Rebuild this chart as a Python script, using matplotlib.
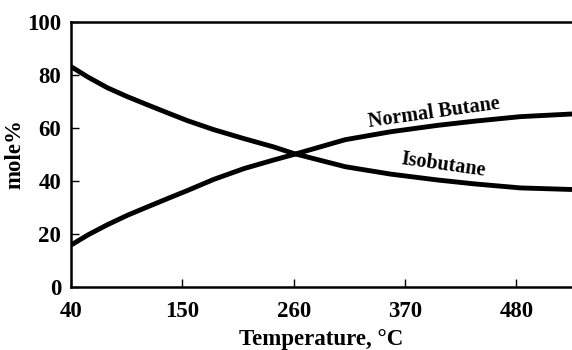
import matplotlib
matplotlib.use('Agg')
import matplotlib.pyplot as plt

# values
temps = [40, 57, 76, 96, 116, 135, 155, 181, 211, 240, 260, 311, 356, 402, 439, 484, 535]
isobutane = [83.2, 79.2, 75.2, 71.8, 68.7, 65.8, 62.8, 59.4, 56.0, 52.9, 50.4,
             45.4, 42.6, 40.4, 38.9, 37.4, 36.8]
normal_butane = [15.8, 19.7, 23.5, 27.1, 30.3, 33.3, 36.4, 40.6, 44.7, 47.9, 50,
                 55.6, 58.6, 61.0, 62.6, 64.3, 65.3]
xticks = [40, 150, 260, 370, 480]
yticks = [0, 20, 40, 60, 80, 100]

plt.rcParams['font.family'] = ['Liberation Serif', 'DejaVu Serif']
plt.rcParams['font.weight'] = 'bold'

fig = plt.figure(figsize=(5.72, 3.5), dpi=100)
ax = fig.add_axes([0.124, 0.18, 0.876, 0.757])

ax.plot(temps, isobutane, color='black', lw=3.5, solid_capstyle='butt')
ax.plot(temps, normal_butane, color='black', lw=3.5, solid_capstyle='butt')

ax.set_xlim(40, 535)
ax.set_ylim(0, 100)
ax.set_xticks(xticks)
ax.set_yticks(yticks)
ax.tick_params(direction='in', length=6, width=1, labelsize=16.5)
ax.tick_params(axis='x', pad=10)
ax.tick_params(axis='y', pad=7)
for s in ['left', 'bottom', 'top']:
    ax.spines[s].set_linewidth(1.8)
ax.spines['right'].set_visible(False)

ax.set_xlabel('Temperature, °C', fontsize=16.5, fontweight='bold', labelpad=5)
ax.set_ylabel('mole%', fontsize=16.5, fontweight='bold', labelpad=1)

ax.text(399, 65.8, 'Normal Butane', fontsize=14.5, fontweight='bold',
        rotation=8, ha='center', va='center')
ax.text(408, 46, 'Isobutane', fontsize=14.5, fontweight='bold',
        rotation=-8, ha='center', va='center')

plt.savefig('out.png', dpi=100)
